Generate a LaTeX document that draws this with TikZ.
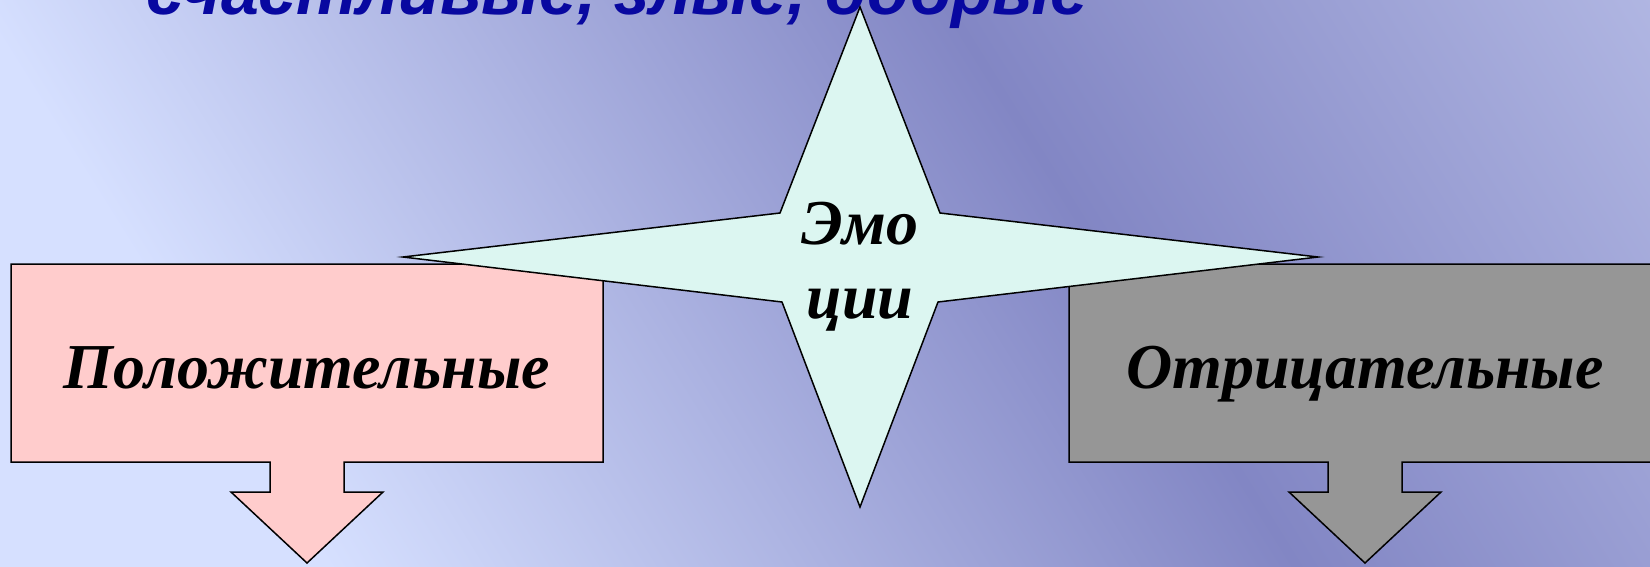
\documentclass[tikz,border=0pt]{standalone}
\usepackage{fontspec}
\setmainfont{Liberation Serif}
\newfontfamily\headfont{Liberation Sans}
\usetikzlibrary{positioning}

\definecolor{bgLight}{HTML}{D6E0FF}
\definecolor{bgDark}{HTML}{8286C4}
\definecolor{bgEdge}{HTML}{CDD4F5}
\definecolor{starFill}{HTML}{DCF6F1}
\definecolor{posFill}{HTML}{FFCCCC}
\definecolor{negFill}{HTML}{969696}
\definecolor{headBlue}{HTML}{0808A0}

% box with a down arrow, #1 = centre x, #2 = fill
\newcommand{\downcallout}[2]{%
  \draw[callout, fill=#2] (#1-296,264) -- (#1+296,264) -- (#1+296,462)
    -- (#1+37,462) -- (#1+37,492) -- (#1+76,492) -- (#1,563)
    -- (#1-76,492) -- (#1-37,492) -- (#1-37,462) -- (#1-296,462) -- cycle;}

\begin{document}
\begin{tikzpicture}[
        x=1pt, y=-1pt,
        % Styles
        callout/.style={draw=black, line width=1.5pt, line join=miter},
        starshape/.style={draw=black, line width=1.5pt, line join=miter, fill=starFill},
        boxlabel/.style={font=\fontsize{64}{72}\selectfont\bfseries\itshape, anchor=base, inner sep=0pt},
        starlabel/.style={font=\fontsize{64}{74}\selectfont\bfseries\itshape, align=center, inner sep=0pt},
        headline/.style={font=\headfont\fontsize{68}{80}\selectfont\bfseries\itshape, text=headBlue, anchor=base west, inner sep=0pt}
    ]

        \useasboundingbox (0,0) rectangle (1650,566);

        % Background
        \begin{scope}
            \clip (0,0) rectangle (1650,566);
            \begin{scope}[transform canvas={shift={(860,283)}, rotate=32}]
                \fill[bgLight] (-1200,-1200) rectangle (-600,1200);
                \shade[left color=bgLight, right color=bgDark] (-601,-1200) rectangle (220,1200);
                \shade[left color=bgDark, right color=bgEdge] (219,-1200) rectangle (1200,1200);
            \end{scope}
        \end{scope}

        % Heading (cut by the top edge)
        \node[headline] (head) at (146,14) {счастливые, злые, добрые};

        % Boxes
        \downcallout{307}{posFill}
        \downcallout{1365}{negFill}
        \node[boxlabel] (pos) at (307,388) {Положительные};
        \node[boxlabel] (neg) at (1365,388) {Отрицательные};

        % Star
        \draw[starshape] (860,7) -- (940,213) -- (1318,257) -- (938,302) -- (860,507)
            -- (782,302) -- (403,257) -- (780,213) -- cycle;
        \node[starlabel] (emo) at (860,267) {Эмо\\ции};

    \end{tikzpicture}
\end{document}
